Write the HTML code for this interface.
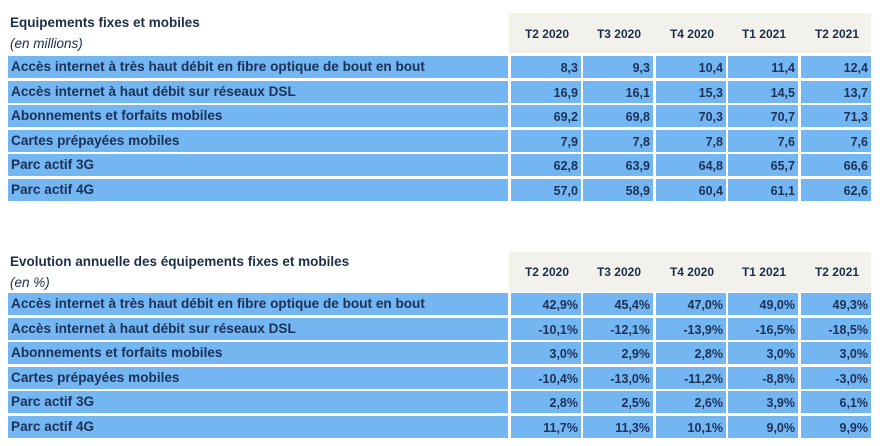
<!DOCTYPE html>
<html><head><meta charset="utf-8"><style>
body{margin:0;width:882px;height:446px;background:#fff;position:relative;overflow:hidden;font-family:"Liberation Sans",sans-serif;color:#1c2d4a}
.a{position:absolute}
.t{font-size:13.5px;font-weight:bold;left:10px}
.s{font-size:13.5px;font-style:italic;left:10px}
.hb{background:#f2f1ec;left:509px;width:362px}
.h{font-size:12px;font-weight:bold;width:72px;text-align:center}
.l{background:#74b6f2;left:8px;width:500px;height:22px;font-size:13.6px;font-weight:bold;line-height:22px;padding-left:3px;box-sizing:border-box;white-space:nowrap;color:#1a3158}
.v{background:#74b6f2;width:70px;height:22px;font-size:12.5px;font-weight:bold;line-height:24px;text-align:right;padding-right:3px;box-sizing:border-box;color:#1a3158}
</style></head><body>
<div class="a t" style="top:15px">Equipements fixes et mobiles</div>
<div class="a s" style="top:36px">(en millions)</div>
<div class="a hb" style="top:13px;height:40px"></div>
<div class="a h" style="left:511px;top:27px">T2 2020</div>
<div class="a h" style="left:583px;top:27px">T3 2020</div>
<div class="a h" style="left:656px;top:27px">T4 2020</div>
<div class="a h" style="left:728px;top:27px">T1 2021</div>
<div class="a h" style="left:801px;top:27px">T2 2021</div>

<div class="a t" style="top:254px">Evolution annuelle des équipements fixes et mobiles</div>
<div class="a s" style="top:275px">(en %)</div>
<div class="a hb" style="top:252px;height:40px"></div>
<div class="a h" style="left:511px;top:265px">T2 2020</div>
<div class="a h" style="left:583px;top:265px">T3 2020</div>
<div class="a h" style="left:656px;top:265px">T4 2020</div>
<div class="a h" style="left:728px;top:265px">T1 2021</div>
<div class="a h" style="left:801px;top:265px">T2 2021</div>

<div id="rows"></div>
<script>
const labels=["Accès internet à très haut débit en fibre optique de bout en bout","Accès internet à haut débit sur réseaux DSL","Abonnements et forfaits mobiles","Cartes prépayées mobiles","Parc actif 3G","Parc actif 4G"];
const v1=[["8,3","9,3","10,4","11,4","12,4"],["16,9","16,1","15,3","14,5","13,7"],["69,2","69,8","70,3","70,7","71,3"],["7,9","7,8","7,8","7,6","7,6"],["62,8","63,9","64,8","65,7","66,6"],["57,0","58,9","60,4","61,1","62,6"]];
const v2=[["42,9%","45,4%","47,0%","49,0%","49,3%"],["-10,1%","-12,1%","-13,9%","-16,5%","-18,5%"],["3,0%","2,9%","2,8%","3,0%","3,0%"],["-10,4%","-13,0%","-11,2%","-8,8%","-3,0%"],["2,8%","2,5%","2,6%","3,9%","6,1%"],["11,7%","11,3%","10,1%","9,0%","9,9%"]];
const xs=[511,583,656,728,801];
let h="";
function tab(y0,vals){for(let i=0;i<6;i++){const y=Math.round(y0+i*24.5);
h+=`<div class="a l" style="top:${y}px">${labels[i]}</div>`;
for(let j=0;j<5;j++)h+=`<div class="a v" style="left:${xs[j]}px;top:${y}px">${vals[i][j]}</div>`;}}
tab(56,v1);tab(293,v2);
document.getElementById("rows").innerHTML=h;
</script>
</body></html>
